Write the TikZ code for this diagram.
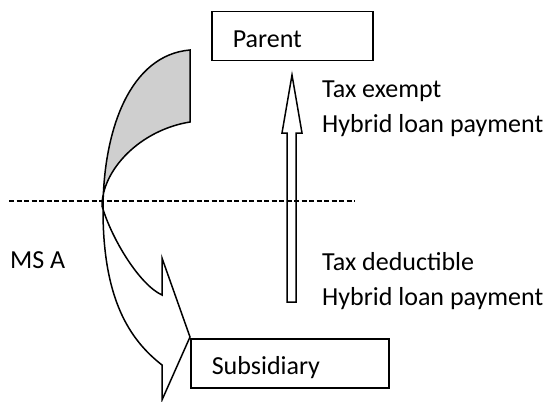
\documentclass[tikz,border=0pt]{standalone}
\usepackage{fontspec}
\setmainfont{Carlito}
\usepackage{tikz}
\usetikzlibrary{calc}
\usetikzlibrary{positioning}
\tikzstyle{block} = [draw, rectangle, line width=1.5pt, inner xsep=21pt,
    minimum height=49pt, text height=23pt, text depth=0pt, align=left, anchor=north west]
\tikzstyle{caption} = [inner sep=0pt, anchor=base west, align=left]
\tikzstyle{outline} = [draw, line width=1.5pt, line join=miter]

\begin{document}
\begin{tikzpicture}[x=1pt, y=-1pt, node distance=2cm, font=\fontsize{26}{35}\selectfont]
    \useasboundingbox (0,0) rectangle (548,401);
    % We start by placing the blocks
    \node [block, text width=119pt] (parent) at (211,11) {Parent};
    \node [block, text width=156pt] (subsidiary) at (190,338) {Subsidiary};

    % The texts beside the payment (base is the last line)
    \node [caption] (exempt) at (322,132) {Tax exempt\\Hybrid loan payment};
    \node [caption] (deductible) at (322,305) {Tax deductible\\Hybrid loan payment};
    \node [caption] (msa) at (10,268) {MS A};

    % The border line between the states
    \coordinate (borderleft) at (9,201);
    \coordinate (borderright) at (355,201);
    \draw [line width=1.2pt, dash pattern=on 5pt off 2.5pt] (borderleft) -- (borderright);

    % The payment, a hollow block arrow
    \draw [outline] (287,302) -- (287,133) -- (282,133) -- (292,75) -- (302,133)
        -- (296,133) -- (296,302) -- cycle;

    % The curved arrow, the back of the band is grey
    \fill [gray!38] (190,50) .. controls (130,55) and (103,130) .. (103,210)
        -- (102,206) .. controls (102,170) and (140,130) .. (190,122) -- cycle;
    \draw [outline] (190,50) .. controls (130,55) and (103,130) .. (103,210)
        .. controls (103,300) and (130,340) .. (162,365)
        -- (162,400) -- (190,337) -- (162,258) -- (162,295)
        .. controls (140,285) and (112,240) .. (102,206)
        .. controls (102,170) and (140,130) .. (190,122) -- cycle;
\end{tikzpicture}
\end{document}
